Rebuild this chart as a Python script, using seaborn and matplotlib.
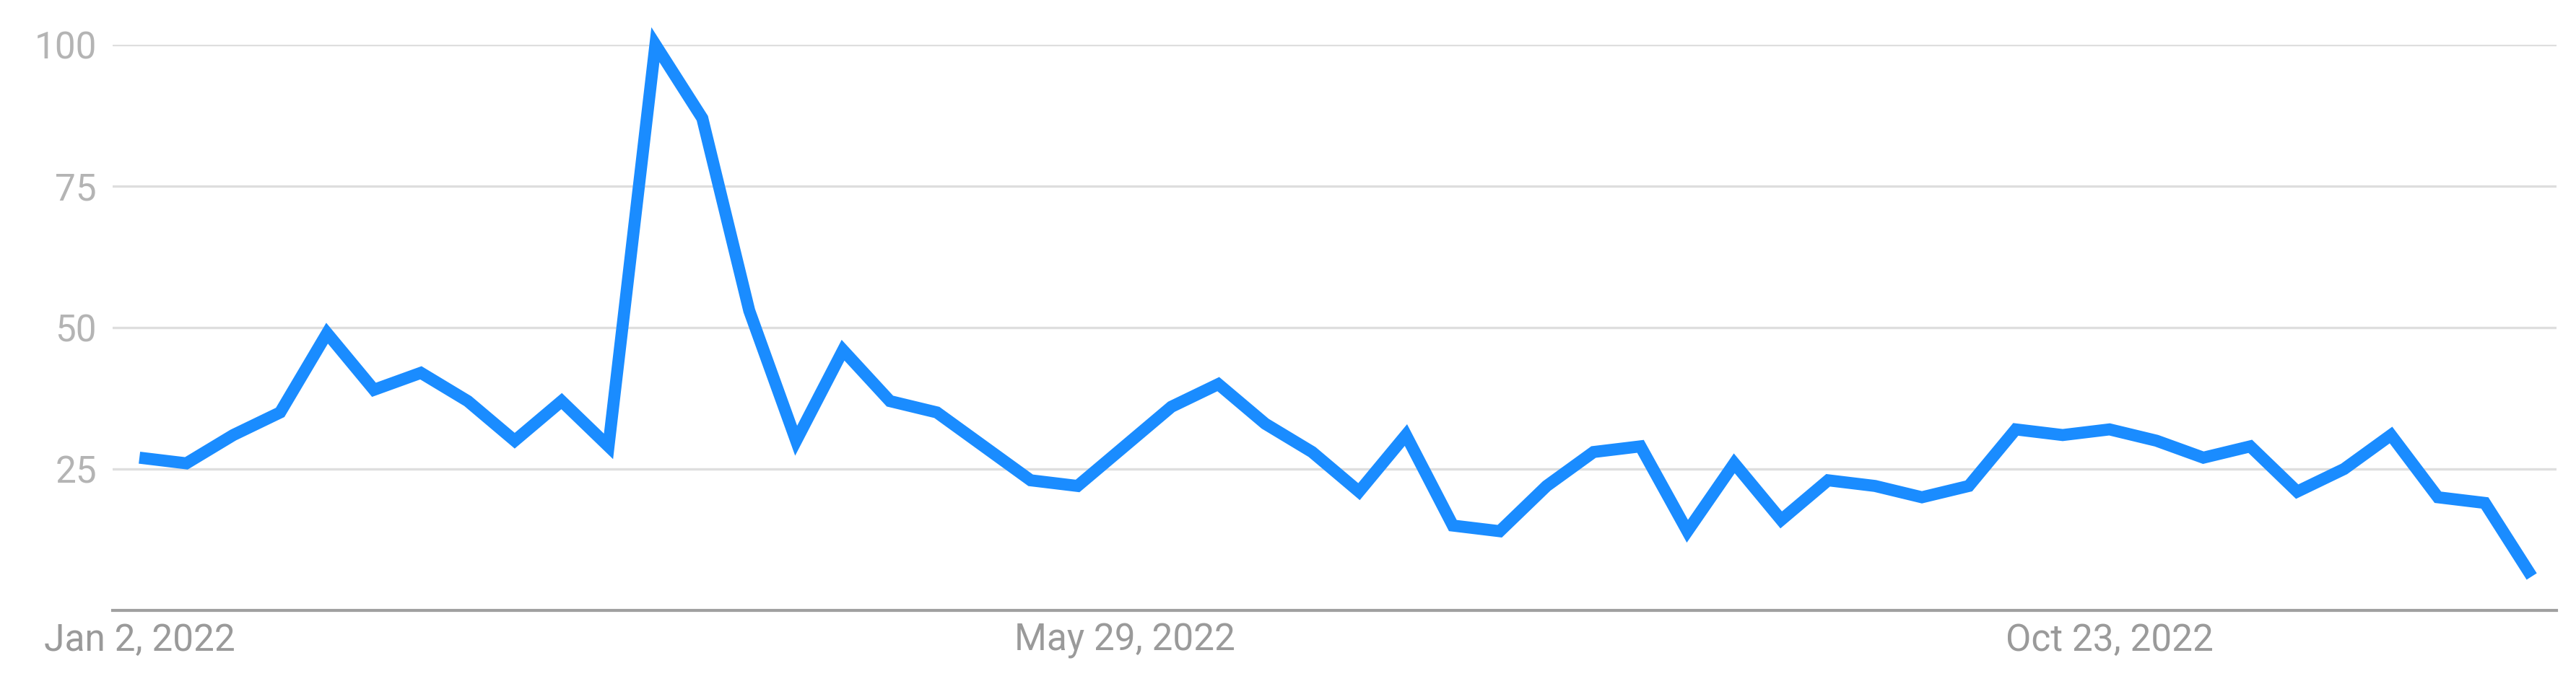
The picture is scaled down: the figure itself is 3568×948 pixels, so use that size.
import matplotlib
matplotlib.use("Agg")
import matplotlib.pyplot as plt
import seaborn as sns
import pandas as pd

# ---- data (weekly interest, Google-Trends style) ----
weeks = pd.date_range("2022-01-02", periods=52, freq="7D")
interest = [27, 26, 31, 35, 49, 39, 42, 37, 30, 37, 29, 100, 87, 53, 30, 46,
            37, 35, 29, 23, 22, 29, 36, 40, 33, 28, 21, 31, 15, 14, 22, 28,
            29, 14, 26, 16, 23, 22, 20, 22, 32, 31, 32, 30, 27, 29, 21, 25,
            31, 20, 19, 6]
ytick_values = [25, 50, 75, 100]
xtick_labels = ["Jan 2, 2022", "May 29, 2022", "Oct 23, 2022"]
xtick_dates = pd.to_datetime(["2022-01-02", "2022-05-29", "2022-10-23"])

df = pd.DataFrame({"week": weeks, "interest": interest})

sns.set_style("white")
plt.rcParams["font.family"] = ["Roboto", "DejaVu Sans"]

W, H = 3568, 948
fig = plt.figure(figsize=(W / 100, H / 100), dpi=100)
ax = fig.add_axes([156 / W, 1 - 846 / H, (3541 - 156) / W, (846 - 62) / H])

sns.lineplot(data=df, x="week", y="interest", ax=ax, color="#1a8cff",
             linewidth=12, clip_on=False, zorder=5)
for ln in ax.lines:
    ln.set_solid_joinstyle("miter")
    ln.set_solid_capstyle("butt")

ax.set_ylim(0, 100)
ax.set_xlim(weeks[0] - pd.Timedelta(days=4.0), weeks[-1] + pd.Timedelta(days=3.7))

ax.set_yticks(ytick_values)
ax.set_yticklabels([str(v) for v in ytick_values])
ax.set_xticks(xtick_dates)
ax.set_xticklabels(xtick_labels)

ax.grid(axis="y", color="#dedede", linewidth=2.4)
ax.grid(axis="x", visible=False)
ax.set_axisbelow(True)

for s in ["top", "left", "right"]:
    ax.spines[s].set_visible(False)
ax.spines["bottom"].set_color("#a0a0a0")
ax.spines["bottom"].set_linewidth(3)

ax.tick_params(axis="y", length=0, pad=16, labelsize=37, labelcolor="#b4b4b4")
ax.tick_params(axis="x", length=0, pad=12, labelsize=37, labelcolor="#9a9a9a")
ax.set_xlabel("")
ax.set_ylabel("")

fig.savefig("out.png", dpi=100, facecolor="white")
